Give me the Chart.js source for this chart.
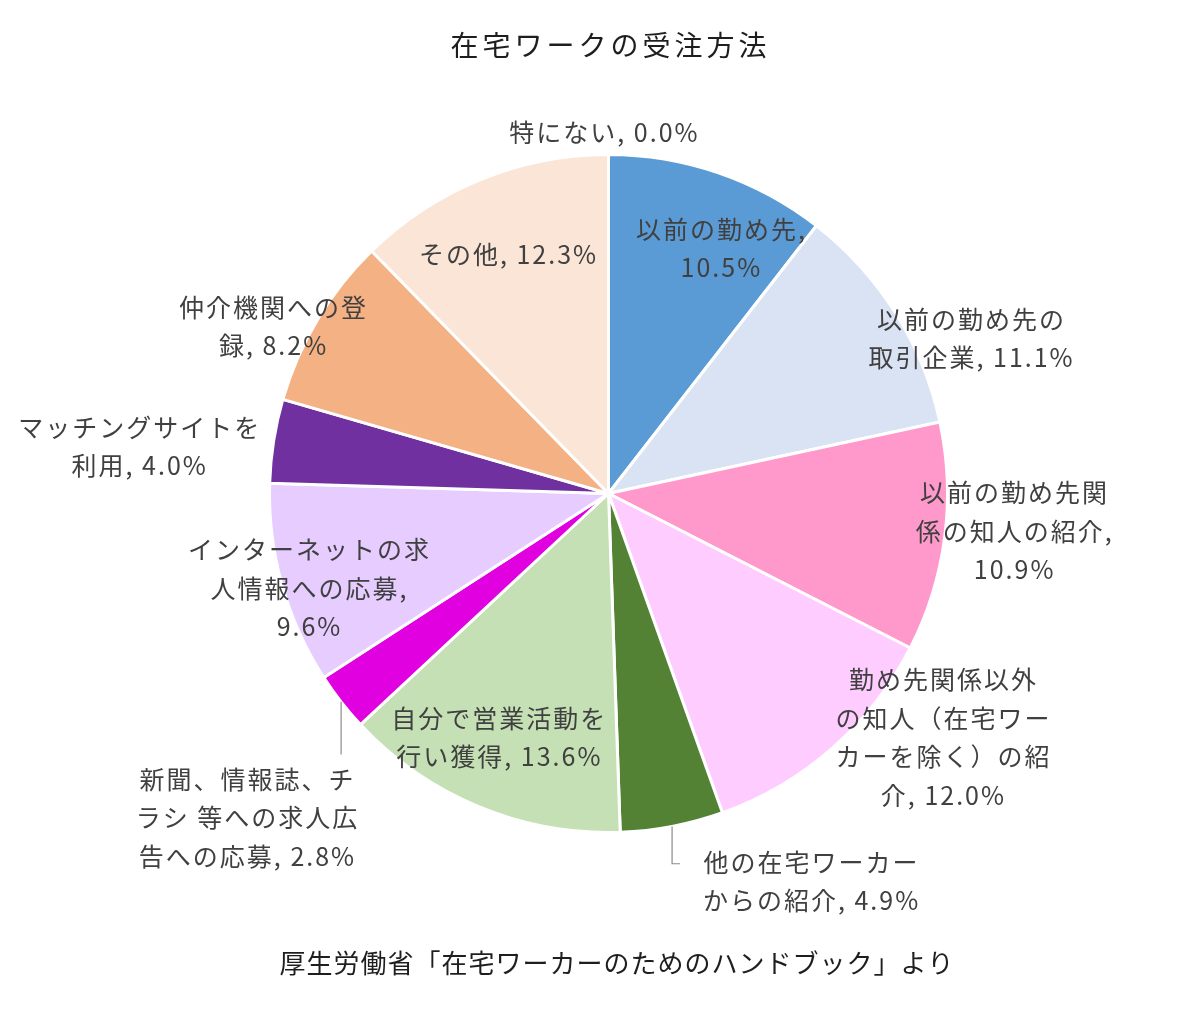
<!DOCTYPE html>
<html lang="ja">
<head>
<meta charset="utf-8">
<title>在宅ワークの受注方法</title>
<script src="https://cdn.jsdelivr.net/npm/chart.js@4.4.1/dist/chart.umd.min.js"></script>
<style>
  html, body { margin: 0; padding: 0; background: #fff; }
  #wrap { width: 1200px; height: 1012px; position: relative; }
</style>
</head>
<body>
<div id="wrap"><canvas id="pieChart"></canvas></div>
<script>
// --- DATA ---
const categories = [
    "以前の勤め先",
    "以前の勤め先の取引企業",
    "以前の勤め先関係の知人の紹介",
    "勤め先関係以外の知人（在宅ワーカーを除く）の紹介",
    "他の在宅ワーカーからの紹介",
    "自分で営業活動を行い獲得",
    "新聞、情報誌、チラシ等への求人広告への応募",
    "インターネットの求人情報への応募",
    "マッチングサイトを利用",
    "仲介機関への登録",
    "その他",
    "特にない"
];
const shares = [10.5, 11.1, 10.9, 12.0, 4.9, 13.6, 2.8, 9.6, 4.0, 8.2, 12.3, 0.0];

// label text, split the way the original wraps it (value is appended from shares)
const labelLines = [
    ["以前の勤め先,", "{v}"],
    ["以前の勤め先の", "取引企業, {v}"],
    ["以前の勤め先関", "係の知人の紹介,", "{v}"],
    ["勤め先関係以外", "の知人（在宅ワー", "カーを除く）の紹", "介, {v}"],
    ["他の在宅ワーカー", "からの紹介, {v}"],
    ["自分で営業活動を", "行い獲得, {v}"],
    ["新聞、情報誌、チ", "ラシ 等への求人広", "告への応募, {v}"],
    ["インターネットの求", "人情報への応募,", "{v}"],
    ["マッチングサイトを", "利用, {v}"],
    ["仲介機関への登", "録, {v}"],
    ["その他, {v}"],
    ["特にない, {v}"]
];

const titleText = "在宅ワークの受注方法";
const sourceText = "厚生労働省「在宅ワーカーのためのハンドブック」より";

// --- STYLE ---
const sliceColors = [
    "#5B9BD5", "#DAE3F3", "#FF99CC", "#FFCCFF", "#548235", "#C5E0B4",
    "#E000E0", "#E6CCFF", "#7030A0", "#F4B183", "#FBE5D6", "#A5A5A5"
];

// label centre, in units of the pie radius, measured from the pie centre
const labelPos = [
    [0.333, -0.723], [1.071, -0.457], [1.198, 0.112], [0.988, 0.720],
    [0.599, 1.145], [-0.322, 0.720], [-1.065, 0.956], [-0.882, 0.280],
    [-1.383, -0.139], [-0.988, -0.493], [-0.295, -0.705], [-0.012, -1.065]
];
// leader lines: index -> [drop below the rim (radius units), horizontal tail (px)]
const leaders = { 4: [0.11, 8], 6: [0.155, 0] };

const FONT = '"Noto Sans CJK JP", "Noto Sans", sans-serif';
const LINE_H = 38.5;

// draws title, source note, slice labels and leader lines
const labelPlugin = {
    id: 'sliceLabels',
    afterDatasetsDraw(chart) {
        const c = chart.ctx;
        const arcs = chart.getDatasetMeta(0).data;
        const cx = arcs[0].x, cy = arcs[0].y, r = arcs[0].outerRadius;

        c.save();
        c.textAlign = 'center';
        c.textBaseline = 'middle';

        // title + source
        c.fillStyle = '#1e1e1e';
        c.font = '28px ' + FONT;
        c.letterSpacing = '4px';
        c.fillText(titleText, cx + 2, 45);
        c.font = '26px ' + FONT;
        c.letterSpacing = '1px';
        c.fillText(sourceText, 617, 963);

        // leader lines
        c.strokeStyle = '#8c8c8c';
        c.lineWidth = 1.2;
        Object.keys(leaders).forEach(k => {
            const a = arcs[k];
            const mid = (a.startAngle + a.endAngle) / 2;
            const x0 = cx + Math.cos(mid) * r;
            const y0 = cy + Math.sin(mid) * r;
            const [drop, tail] = leaders[k];
            c.beginPath();
            c.moveTo(x0, y0);
            c.lineTo(x0, y0 + drop * r);
            if (tail) c.lineTo(x0 + tail, y0 + drop * r);
            c.stroke();
        });

        // slice labels
        c.fillStyle = '#404040';
        c.font = '25px ' + FONT;
        c.letterSpacing = '2px';
        labelLines.forEach((lines, i) => {
            const x = cx + labelPos[i][0] * r;
            const y = cy + labelPos[i][1] * r;
            const top = y - (lines.length - 1) * LINE_H / 2;
            lines.forEach((ln, j) => {
                c.fillText(ln.replace('{v}', shares[i].toFixed(1) + '%'), x, top + j * LINE_H);
            });
        });
        c.restore();
    }
};

const ctx = document.getElementById('pieChart').getContext('2d');
const chart = new Chart(ctx, {
    type: 'pie',
    data: {
        labels: categories,
        datasets: [{
            data: shares,
            backgroundColor: sliceColors,
            borderColor: '#ffffff',
            borderWidth: 3
        }]
    },
    options: {
        responsive: true,
        maintainAspectRatio: false,
        animation: false,
        layout: { padding: { left: 268, right: 251, top: 153, bottom: 178 } },
        plugins: {
            legend: { display: false },
            tooltip: { enabled: false },
            title: { display: false }
        }
    },
    plugins: [labelPlugin]
});
</script>
</body>
</html>
